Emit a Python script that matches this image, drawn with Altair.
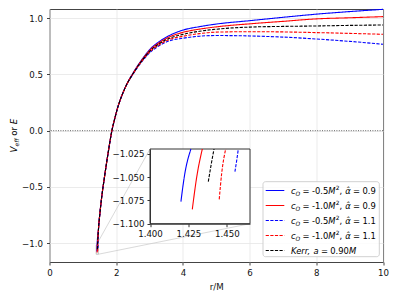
import altair as alt
import pandas as pd

# ---------------- values ----------------
SERIES = ["co-0.5_a0.9", "co-1.0_a0.9", "co-0.5_a1.1", "co-1.0_a1.1", "kerr_a0.90"]
CO_LABELS = ["-0.5", "-1.0", "-0.5", "-1.0"]
ALPHA_LABELS = ["0.9", "0.9", "1.1", "1.1"]
KERR_A_LABEL = "0.90"

# start of each curve (as seen in the inset): bottom, middle, top of the inset window
INSET_R = [
    [1.4201, 1.4223, 1.4266],
    [1.4275, 1.4304, 1.4340],
    [1.4552, 1.4564, 1.4574],
    [1.4450, 1.4466, 1.4492],
    [1.4379, 1.4397, 1.4416],
]
INSET_V = [
    [-1.0764, -1.0497, -1.020],
    [-1.0846, -1.0497, -1.020],
    [-1.0443, -1.0318, -1.020],
    [-1.0739, -1.0460, -1.020],
    [-1.0550, -1.0372, -1.020],
]

# steep rising branch (curves overlap here)
R_RISE = [1.47, 1.51, 1.57, 1.64, 1.72, 1.80, 1.87, 1.95, 2.03, 2.25]
V_RISE = [-0.87, -0.74, -0.58, -0.43, -0.27, -0.12, 0.0, 0.10, 0.19, 0.37]

# outer part, where the curves separate
R_TAIL = [2.54, 2.8, 3.0, 3.3, 3.6, 4.0, 4.5, 5.0, 6.0, 7.0, 8.0, 9.0, 10.0]
V_TAIL = [
    [0.530, 0.645, 0.720, 0.795, 0.848, 0.895, 0.926, 0.949, 0.979, 1.009, 1.037, 1.060, 1.080],
    [0.527, 0.640, 0.713, 0.785, 0.835, 0.875, 0.904, 0.924, 0.951, 0.973, 0.995, 1.005, 1.015],
    [0.518, 0.625, 0.692, 0.758, 0.800, 0.823, 0.841, 0.847, 0.843, 0.833, 0.816, 0.795, 0.769],
    [0.521, 0.630, 0.699, 0.767, 0.812, 0.840, 0.864, 0.877, 0.881, 0.879, 0.873, 0.866, 0.858],
    [0.524, 0.635, 0.706, 0.776, 0.823, 0.857, 0.885, 0.903, 0.922, 0.928, 0.932, 0.937, 0.941],
]

X_TICKS = [0, 2, 4, 6, 8, 10]
Y_TICKS = [-1.0, -0.5, 0.0, 0.5, 1.0]
INSET_X_TICKS = [1.400, 1.425, 1.450]
INSET_Y_TICKS = [-1.100, -1.075, -1.050, -1.025]

# ---------------- layout / style ----------------
XLIM = [0.0, 10.0]
YLIM = [-1.169, 1.083]
INSET_XLIM = [1.400, 1.465]
INSET_YLIM = [-1.100, -1.020]

W, H = 333.5, 253.0
X0_PAGE, Y0_PAGE = 49.5, 9.0
INSET_PAGE = dict(left=150.0, right=250.0, top=149.0, bottom=223.7)

COLORS = ["#0000ff", "#ff0000", "#0000ff", "#ff0000", "#000000"]
DASH = [[1, 0], [1, 0], [3.2, 1.4], [3.2, 1.4], [3.2, 1.4]]
FONT = "DejaVu Sans"
FS = 8.65
FL = 8.4

def dx(px):
    return XLIM[0] + (px - X0_PAGE) / W * (XLIM[1] - XLIM[0])

def dy(py):
    return YLIM[1] - (py - Y0_PAGE) / H * (YLIM[1] - YLIM[0])

xs = alt.Scale(domain=XLIM, nice=False, zero=False)
ys = alt.Scale(domain=YLIM, nice=False, zero=False)
x_axis = alt.Axis(values=X_TICKS, format="d", title="r/M", grid=True, domain=False,
                  gridColor="#e6e6e6", gridWidth=0.8, tickSize=3, tickColor="#444",
                  labelPadding=3, titlePadding=6, labelFlush=False)
y_axis = alt.Axis(values=Y_TICKS, format=".1f", title=None, grid=True, domain=False,
                  gridColor="#e6e6e6", gridWidth=0.8, tickSize=3, tickColor="#444",
                  labelPadding=4)

def X(f):
    return alt.X(f, type="quantitative", scale=xs, axis=x_axis)

def Y(f):
    return alt.Y(f, type="quantitative", scale=ys, axis=y_axis)

layers = []

# zero line
layers.append(alt.Chart(pd.DataFrame({"y": [0.0]})).mark_rule(
    color="#555", strokeWidth=0.9, strokeDash=[1, 1.4]).encode(y=Y("y")))

# connector lines of the inset + marked rectangle
ix_l, ix_r = dx(INSET_PAGE["left"]), dx(INSET_PAGE["right"])
iy_t, iy_b = dy(INSET_PAGE["top"]), dy(INSET_PAGE["bottom"])
conn = pd.DataFrame({"x": [INSET_XLIM[0], INSET_XLIM[1]], "y": [INSET_YLIM[1], INSET_YLIM[0]],
                     "x2": [ix_l, ix_r], "y2": [iy_t, iy_b]})
layers.append(alt.Chart(conn).mark_rule(color="#c8c8c8", strokeWidth=0.7).encode(
    x=X("x"), y=Y("y"), x2="x2:Q", y2="y2:Q"))
mark_box = pd.DataFrame({"x": [INSET_XLIM[0]], "x2": [INSET_XLIM[1]],
                         "y": [INSET_YLIM[0]], "y2": [INSET_YLIM[1]]})
layers.append(alt.Chart(mark_box).mark_rect(fillOpacity=0, stroke="#999", strokeWidth=0.6).encode(
    x=X("x"), x2="x2:Q", y=Y("y"), y2="y2:Q"))

# main curves
for i, s in enumerate(SERIES):
    r = INSET_R[i] + R_RISE + R_TAIL
    v = INSET_V[i] + V_RISE + V_TAIL[i]
    df = pd.DataFrame({"r": r, "v": v, "o": range(len(r))})
    layers.append(alt.Chart(df).mark_line(
        color=COLORS[i], strokeDash=DASH[i], strokeWidth=1.1, interpolate="monotone").encode(
        x=X("r"), y=Y("v"), order="o:Q"))

# ---------- legend (manual, for sub/superscripts) ----------
LEG_PAGE = dict(left=263.0, right=379.3, top=181.7, bottom=256.7)
leg_box = pd.DataFrame({"x": [dx(LEG_PAGE["left"])], "x2": [dx(LEG_PAGE["right"])],
                        "y": [dy(LEG_PAGE["top"])], "y2": [dy(LEG_PAGE["bottom"])]})
layers.append(alt.Chart(leg_box).mark_rect(fill="white", fillOpacity=0.85, stroke="#cccccc",
                                           strokeWidth=0.9, cornerRadius=2.5).encode(
    x=X("x"), x2="x2:Q", y=Y("y"), y2="y2:Q"))

ROW0, ROWSTEP = 190.5, 15.0
LEG_ORDER = [0, 1, 2, 3, 4]
for k, i in enumerate(LEG_ORDER):
    yc = ROW0 + ROWSTEP * k
    d = pd.DataFrame({"x": [dx(265.7)], "x2": [dx(284.3)], "y": [dy(yc)]})
    layers.append(alt.Chart(d).mark_rule(color=COLORS[i], strokeDash=DASH[i], strokeWidth=1.1).encode(
        x=X("x"), x2="x2:Q", y=Y("y")))

ADV = {'0': .636, '1': .636, '2': .636, '3': .636, '4': .636, '5': .636, '6': .636, '7': .636,
       '8': .636, '9': .636, '.': .318, ',': .318, ' ': .318, '=': .838, '-': .361, 'M': .863,
       'K': .656, 'e': .615, 'r': .411, 'a': .613, 'c': .550, 'O': .787, 'α': .659, 'o': .612,
       'f': .352, 'V': .684, 'E': .632, '\u0302': 0.0}

def adv(s, size):
    return sum(ADV[ch] for ch in s) * size

pieces = []  # (page_x, page_y, text, size, italic)
for k, i in enumerate(LEG_ORDER):
    yb = ROW0 + ROWSTEP * k + 3.0
    if i < 4:
        spec = [("c", True, 1, 0, 0), ("O", True, .7, 2.0, 0), ("=", False, 1, 0, 2.3),
                (CO_LABELS[i], False, 1, 0, 2.3), ("M", True, 1, 0, 0), ("2", False, .7, -3.4, 0.3),
                (",", False, 1, 0, 0), ("α\u0302", True, 1, 0, 3.0), ("=", False, 1, 0, 2.3),
                (ALPHA_LABELS[i], False, 1, 0, 2.3)]
    else:
        spec = [("Kerr,", True, 1, 0, 0), ("a", True, 1, 0, 2.2), ("=", False, 1, 0, 2.3),
                (KERR_A_LABEL, False, 1, 0, 2.3), ("M", True, 1, 0, 0)]
    x = 291.0
    for t, it, sf, ddy, gap in spec:
        x += gap
        size = FL * sf
        pieces.append((x, yb + ddy, t, size, it))
        x += adv(t, size)

tdf = pd.DataFrame(pieces, columns=["px", "py", "t", "fs", "it"])
tdf["x"] = tdf["px"].map(dx)
tdf["y"] = tdf["py"].map(dy)
for it in (True, False):
    sub = tdf[tdf["it"] == it]
    layers.append(alt.Chart(sub).mark_text(
        font=FONT, fontStyle="italic" if it else "normal", align="left", baseline="alphabetic",
        color="black").encode(x=X("x"), y=Y("y"), text="t:N",
                               size=alt.Size("fs:Q", scale=None, legend=None)))

# ---------- y-axis title: V_eff or E (rotated) ----------
XB = 17.0
SP = adv(" ", FS)
y0 = 135.5 + 16.9
ty = []
p = y0
ty.append((XB, p, "V", FS, True)); p -= adv("V", FS)
ty.append((XB + 2.2, p, "eff", FS * .7, True)); p -= adv("eff", FS * .7) + SP
ty.append((XB, p, "or", FS, False)); p -= adv("or", FS) + SP
ty.append((XB, p, "E", FS, True))
ydf = pd.DataFrame(ty, columns=["px", "py", "t", "fs", "it"])
ydf["x"] = ydf["px"].map(dx)
ydf["y"] = ydf["py"].map(dy)
for it in (True, False):
    sub = ydf[ydf["it"] == it]
    layers.append(alt.Chart(sub).mark_text(
        font=FONT, fontStyle="italic" if it else "normal", align="left", baseline="alphabetic",
        angle=270, color="black").encode(x=X("x"), y=Y("y"), text="t:N",
                                          size=alt.Size("fs:Q", scale=None, legend=None)))

main = alt.layer(*layers)

# ---------------- inset ----------------
ixs = alt.Scale(domain=INSET_XLIM, nice=False, zero=False,
                range=[INSET_PAGE["left"] - X0_PAGE, INSET_PAGE["right"] - X0_PAGE])
iys = alt.Scale(domain=INSET_YLIM, nice=False, zero=False,
                range=[INSET_PAGE["bottom"] - Y0_PAGE, INSET_PAGE["top"] - Y0_PAGE])
ix_axis = alt.Axis(orient="bottom", offset=-(Y0_PAGE + H - INSET_PAGE["bottom"]), values=INSET_X_TICKS,
                   format=".3f", grid=False, title=None, tickSize=3, tickColor="#333",
                   domainColor="#333", labelPadding=3, labelFlush=False, zindex=1)
iy_axis = alt.Axis(orient="left", offset=-(INSET_PAGE["left"] - X0_PAGE), values=INSET_Y_TICKS,
                   format=".3f", grid=False, title=None, tickSize=3, tickColor="#333",
                   domainColor="#333", labelPadding=3, zindex=1)

def IX(f):
    return alt.X(f, type="quantitative", scale=ixs, axis=ix_axis)

def IY(f):
    return alt.Y(f, type="quantitative", scale=iys, axis=iy_axis)

ilayers = []
ibox = pd.DataFrame({"x": [INSET_XLIM[0]], "x2": [INSET_XLIM[1]], "y": [INSET_YLIM[0]], "y2": [INSET_YLIM[1]]})
ilayers.append(alt.Chart(ibox).mark_rect(fill="white", stroke="#333", strokeWidth=1).encode(
    x=IX("x"), x2="x2:Q", y=IY("y"), y2="y2:Q"))
for i, s in enumerate(SERIES):
    df = pd.DataFrame({"r": INSET_R[i], "v": INSET_V[i], "o": range(len(INSET_R[i]))})
    ilayers.append(alt.Chart(df).mark_line(
        color=COLORS[i], strokeDash=DASH[i], strokeWidth=1.1, interpolate="monotone").encode(
        x=IX("r"), y=IY("v"), order="o:Q"))
inset = alt.layer(*ilayers)

chart = alt.layer(main, inset).resolve_scale(x="independent", y="independent").resolve_axis(
    x="independent", y="independent").properties(
    width=W, height=H, autosize=alt.AutoSizeParams(type="none"),
    padding={"left": X0_PAGE - 8, "top": Y0_PAGE - 8, "right": 8, "bottom": 29}
).configure_view(stroke="#444", strokeWidth=1).configure_axis(
    labelFont=FONT, labelFontSize=FS, labelColor="#111", titleFont=FONT, titleFontSize=FS,
    titleFontWeight="normal", titleColor="#111")

chart.save("out.html", embed_options={"renderer": "svg", "actions": False})
